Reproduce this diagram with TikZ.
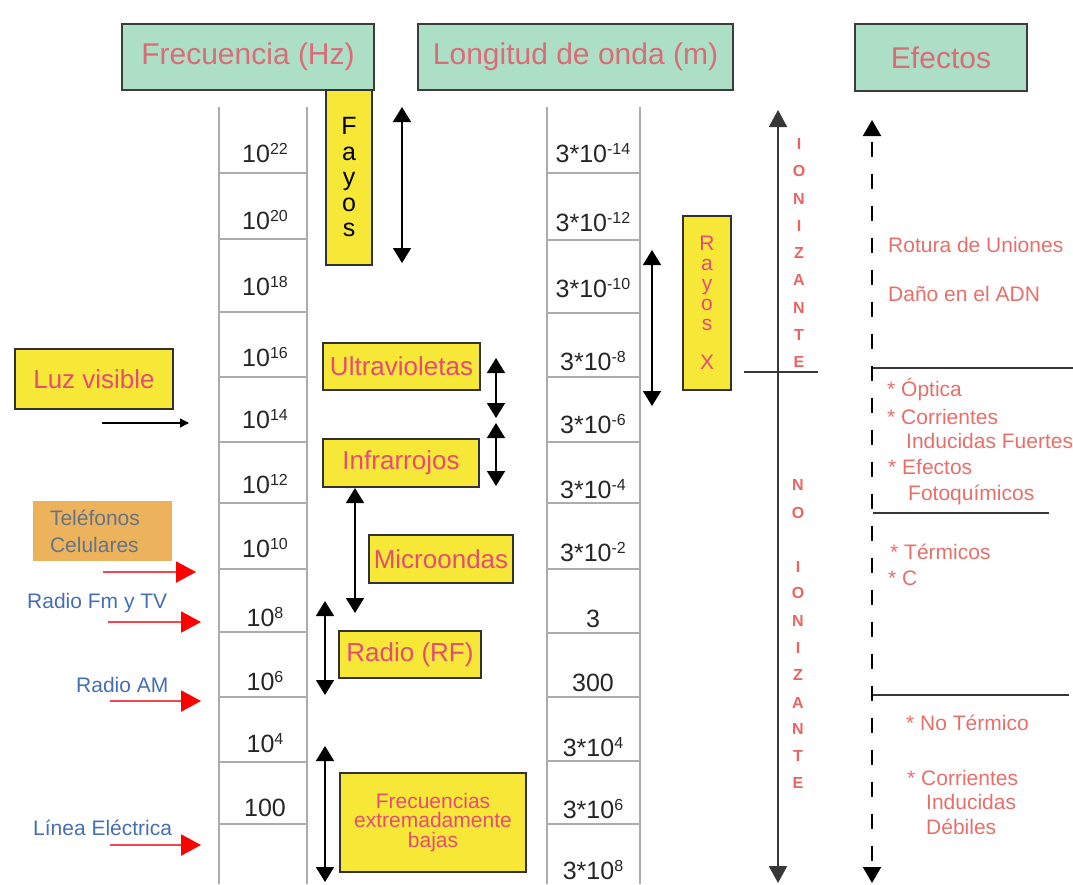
\documentclass[tikz,border=0pt]{standalone}
\usepackage{fontspec}
\setmainfont{Liberation Sans}
\usetikzlibrary{arrows.meta}
\definecolor{hdrfill}{RGB}{173,222,198}
\definecolor{hdrline}{RGB}{60,60,60}
\definecolor{hdrtext}{RGB}{218,108,120}
\definecolor{yel}{RGB}{247,232,55}
\definecolor{yline}{RGB}{50,50,50}
\definecolor{ytext}{RGB}{228,76,118}
\definecolor{efxc}{RGB}{232,110,105}
\definecolor{ionc}{RGB}{235,98,98}
\definecolor{bluc}{RGB}{70,110,180}
\definecolor{telfill}{RGB}{236,178,92}
\definecolor{teltext}{RGB}{100,115,135}
\definecolor{colgray}{RGB}{172,172,172}
\definecolor{redline}{RGB}{245,70,80}
\definecolor{axisc}{RGB}{55,55,55}
\newcommand\pw[1]{\raisebox{7.5pt}{\fontsize{16}{16}\selectfont #1}}
\begin{document}
\begin{tikzpicture}[x=1pt,y=-1pt,
  hdr/.style={draw=hdrline, line width=2pt, fill=hdrfill, text=hdrtext, font=\fontsize{30}{36}\selectfont, inner sep=0pt},
  ybox/.style={draw=yline, line width=1.8pt, fill=yel, text=ytext, inner sep=0pt},
  num/.style={anchor=base, font=\fontsize{25}{30}\selectfont, text=black!85, inner sep=0pt},
  efx/.style={anchor=west, text=efxc, font=\fontsize{21}{25}\selectfont, inner sep=0pt, text height=15pt, text depth=4pt},
  ionl/.style={text=ionc, font=\fontsize{16}{16}\selectfont\bfseries, inner sep=0pt},
  lbl/.style={anchor=west, text=bluc, font=\fontsize{21}{25}\selectfont, inner sep=0pt},
  dbl/.style={{Triangle[width=18pt,length=15pt]}-{Triangle[width=18pt,length=15pt]}, line width=1.6pt, draw=black},
  redarr/.style={-{Triangle[width=21pt,length=20pt,color=red]}, draw=redline, line width=2pt},
  col/.style={draw=colgray, line width=2pt},
  sepl/.style={draw=axisc, line width=2pt}
]
\useasboundingbox (0,0) rectangle (1073,884);

% headers
\node[hdr, minimum width=252pt, minimum height=66pt] (hf) at (248,57) {Frecuencia (Hz)};
\node[hdr, minimum width=315pt, minimum height=66pt] (hl) at (575.5,57) {Longitud de onda (m)};
\node[hdr, minimum width=172pt, minimum height=67pt] (he) at (941,57.5) {Efectos};

% frequency column
\draw[col] (219,107) -- (219,884);
\draw[col] (307,107) -- (307,884);
\foreach \y in {173,239,312,377,442,503,569,632,697,762,824}
  \draw[col] (219,\y) -- (307,\y);
\node[num] (f22) at (265,162) {10\pw{22}};
\node[num] (f20) at (265,229) {10\pw{20}};
\node[num] (f18) at (265,295) {10\pw{18}};
\node[num] (f16) at (265,366) {10\pw{16}};
\node[num] (f14) at (265,428) {10\pw{14}};
\node[num] (f12) at (265,493) {10\pw{12}};
\node[num] (f10) at (265,557) {10\pw{10}};
\node[num] (f8) at (265,626) {10\pw{8}};
\node[num] (f6) at (265,690) {10\pw{6}};
\node[num] (f4) at (265,752) {10\pw{4}};
\node[num] (f2) at (265,816) {100};

% wavelength column
\draw[col] (547,107) -- (547,884);
\draw[col] (640,107) -- (640,884);
\foreach \y in {173,240,313,377,442,503,569,633,697,761,824}
  \draw[col] (547,\y) -- (640,\y);
\node[num] (w14) at (593,162) {3*10\pw{-14}};
\node[num] (w12) at (593,231) {3*10\pw{-12}};
\node[num] (w10) at (593,297) {3*10\pw{-10}};
\node[num] (w8) at (593,370) {3*10\pw{-8}};
\node[num] (w6) at (593,433) {3*10\pw{-6}};
\node[num] (w4) at (593,498) {3*10\pw{-4}};
\node[num] (w2) at (593,561) {3*10\pw{-2}};
\node[num] (w0) at (593,627) {3};
\node[num] (w300) at (593,691) {300};
\node[num] (wp4) at (593,756) {3*10\pw{4}};
\node[num] (wp6) at (593,818) {3*10\pw{6}};
\node[num] (wp8) at (593,879) {3*10\pw{8}};

% spectrum boxes
\node[ybox, text=black, minimum width=46pt, minimum height=175pt, align=center, font=\fontsize{25}{25.5}\selectfont] (fayos) at (349,177.5) {F\\a\\y\\o\\s};
\coordinate (fa1) at (402,107); \coordinate (fa2) at (402,263);
\draw[dbl] (fa1) -- (fa2);

\node[ybox, minimum width=48pt, minimum height=174pt, align=center, font=\fontsize{21}{20}\selectfont] (rayos) at (707,303) {R\\a\\y\\o\\s\\[19pt]X};
\coordinate (rx1) at (652,250); \coordinate (rx2) at (652,406);
\draw[dbl] (rx1) -- (rx2);

\node[ybox, minimum width=158pt, minimum height=60pt, font=\fontsize{26}{30}\selectfont] (luz) at (94,379) {Luz visible};
\coordinate (la1) at (102,423); \coordinate (la2) at (189,423);
\draw[-{Triangle[width=9pt,length=9pt]}, line width=1.3pt] (la1) -- (la2);

\node[fill=telfill, minimum width=139pt, minimum height=60pt, text width=105pt, align=left, inner xsep=17pt, inner ysep=0pt, text=teltext, font=\fontsize{21}{27}\selectfont] (tel) at (102.5,531) {Teléfonos\\Celulares};
\coordinate (t1) at (103,572); \coordinate (t2) at (196,572);
\draw[redarr] (t1) -- (t2);

\node[lbl] (fm) at (27,603) {Radio Fm y TV};
\coordinate (fm1) at (108,622); \coordinate (fm2) at (201,622);
\draw[redarr] (fm1) -- (fm2);
\node[lbl] (am) at (76,685) {Radio AM};
\coordinate (am1) at (110,701); \coordinate (am2) at (201,701);
\draw[redarr] (am1) -- (am2);
\node[lbl] (le) at (33,828) {Línea Eléctrica};
\coordinate (le1) at (110,845); \coordinate (le2) at (201,845);
\draw[redarr] (le1) -- (le2);

\node[ybox, minimum width=157pt, minimum height=47pt, font=\fontsize{26}{30}\selectfont] (uv) at (401.5,366.5) {Ultravioletas};
\coordinate (uv1) at (496,358); \coordinate (uv2) at (496,418);
\draw[dbl] (uv1) -- (uv2);
\node[ybox, minimum width=156pt, minimum height=48pt, font=\fontsize{26}{30}\selectfont] (ir) at (401,463) {Infrarrojos};
\coordinate (ir1) at (496,423); \coordinate (ir2) at (496,486);
\draw[dbl] (ir1) -- (ir2);
\node[ybox, minimum width=144pt, minimum height=48pt, font=\fontsize{26}{30}\selectfont] (mw) at (441,559) {Microondas};
\coordinate (mw1) at (355,488); \coordinate (mw2) at (355,613);
\draw[dbl] (mw1) -- (mw2);
\node[ybox, minimum width=142pt, minimum height=47pt, font=\fontsize{26}{30}\selectfont] (rf) at (410,654.5) {Radio (RF)};
\coordinate (rf1) at (325,601); \coordinate (rf2) at (325,695);
\draw[dbl] (rf1) -- (rf2);
\node[ybox, minimum width=186pt, minimum height=99pt, align=center, font=\fontsize{21}{19.5}\selectfont] (elf) at (433,822.5) {Frecuencias\\extremadamente\\bajas};
\coordinate (elf1) at (325,746); \coordinate (elf2) at (325,882);
\draw[dbl] (elf1) -- (elf2);

% ionizing axis
\coordinate (ax1) at (778,110); \coordinate (ax2) at (778,883);
\draw[{Triangle[width=18pt,length=17pt]}-{Triangle[width=18pt,length=17pt]}, line width=2pt, draw=axisc] (ax1) -- (ax2);
\coordinate (cx1) at (744,372); \coordinate (cx2) at (818,372);
\draw[sepl] (cx1) -- (cx2);
\foreach \l [count=\i] in {I,O,N,I,Z,A,N,T,E}
  \node[ionl] (io\i) at (799,{144+27.25*(\i-1)}) {\l};
\foreach \l/\y [count=\i] in {N/485,O/513,I/567,O/593,N/621,I/648,Z/675,A/703,N/729,T/756,E/783}
  \node[ionl] (no\i) at (798,\y) {\l};

% effects axis
\coordinate (ea1) at (872,120); \coordinate (ea2) at (872,883);
\draw[{Triangle[width=18pt,length=16pt]}-{Triangle[width=18pt,length=16pt]}, line width=2pt, dash pattern=on 15pt off 17pt, dash phase=-6pt] (ea1) -- (ea2);
\coordinate (h1a) at (873,368); \coordinate (h1b) at (1073,368);
\coordinate (h2a) at (873,513); \coordinate (h2b) at (1049,513);
\coordinate (h3a) at (873,695); \coordinate (h3b) at (1069,695);
\draw[sepl] (h1a) -- (h1b);
\draw[sepl] (h2a) -- (h2b);
\draw[sepl] (h3a) -- (h3b);

\node[efx] (e1) at (888,247) {Rotura de Uniones};
\node[efx] (e2) at (888,296) {Daño en el ADN};
\node[efx] (e3) at (887,391) {* Óptica};
\node[efx] (e4) at (887,419) {* Corrientes};
\node[efx] (e5) at (906,443) {Inducidas Fuertes};
\node[efx] (e6) at (888,469) {* Efectos};
\node[efx] (e7) at (908,495) {Fotoquímicos};
\node[efx] (e8) at (890,554) {* Térmicos};
\node[efx] (e9) at (888,580) {* C};
\node[efx] (e10) at (906,725) {* No Térmico};
\node[efx] (e11) at (907,780) {* Corrientes};
\node[efx] (e12) at (926,804) {Inducidas};
\node[efx] (e13) at (926,829) {Débiles};
\end{tikzpicture}
\end{document}
